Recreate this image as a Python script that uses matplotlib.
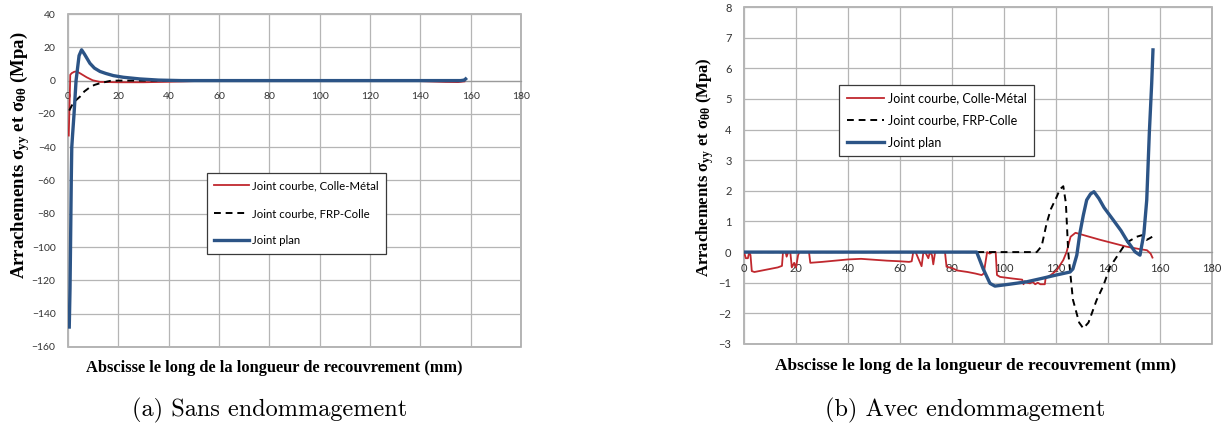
import matplotlib
matplotlib.use("Agg")
import matplotlib.pyplot as plt

# ---------------- data : (a) Sans endommagement ----------------
a_plan_x = [0.5, 0.8, 1.0, 1.3, 1.5, 1.8, 2.4, 3.2, 4.4, 5.4, 6.5, 8.7, 10.5, 12.7, 15, 18, 22,
            28.5, 36, 45, 60, 80, 100, 120, 140, 156, 157.5, 158]
a_plan_y = [-148, -125, -100, -60, -40, -33, -20, 0, 15, 18.5, 16, 10.4, 7.5, 5.5, 4.3, 3, 2,
            1, 0.3, 0, 0, 0, 0, 0, 0, 0, 0.3, 1.0]

a_cm_x = [0.3, 0.6, 0.9, 1.5, 2.5, 3.5, 5, 7.4, 9.8, 12.7, 20, 30, 40, 50, 60, 80, 100, 110,
          120, 140, 150, 155, 157.5]
a_cm_y = [-33, -15, 3.5, 4.5, 5.3, 5.5, 4.2, 2, 0.2, -0.8, -1, -1, -0.7, -0.3, 0, 0.3, 0.3, 0.3,
          0, -0.3, -0.8, -0.9, -0.5]

a_frp_x = [0.5, 1.5, 3, 4.8, 6.5, 8.7, 10.5, 12.7, 16.7, 20, 30, 50, 80, 120, 157.5]
a_frp_y = [-18, -15, -12, -9.6, -6.5, -4, -2.6, -1.6, -0.2, 0, 0, 0, 0, 0, 0]

# ---------------- data : (b) Avec endommagement ----------------
b_plan_x = [0, 89.5, 92, 94.6, 96.5, 102, 108.7, 115, 120, 125.4, 126.5, 128, 129.2, 130.5,
            131.8, 133.3, 134.6, 136.5, 138.5, 142, 145, 147.2, 150.4, 152.3, 153.8, 154.9,
            155.9, 156.8, 157.3]
b_plan_y = [0, 0, -0.55, -1.02, -1.11, -1.05, -0.97, -0.85, -0.75, -0.65, -0.55, -0.1, 0.62,
            1.2, 1.7, 1.9, 1.97, 1.75, 1.45, 1.05, 0.7, 0.39, 0.01, -0.1, 0.6, 1.7,
            3.9, 5.5, 6.6]

b_frp_x = [0, 112.6, 114.5, 116.4, 118, 120.3, 121.5, 122.8, 123.8, 124.7, 126.5, 128.9, 130.5,
           132.5, 135.6, 138.2, 140.8, 143, 145.9, 148, 151, 153, 154.9, 156, 157]
b_frp_y = [0, 0, 0.2, 0.94, 1.4, 1.81, 2.05, 2.15, 1.6, 0, -1.55, -2.3, -2.49,
           -2.3, -1.57, -1.1, -0.48, -0.2, 0.17, 0.35, 0.5, 0.55, 0.4, 0.45, 0.5]

b_cm_x = [0, 0.7, 1.5, 2.0, 2.5, 3.0, 4.0, 7, 10, 13, 14.6, 15.0, 16.0, 16.4, 17.0, 17.8, 18.4,
          19.3, 20.0, 20.8, 21.3, 25.0, 25.5, 30, 35, 40, 45, 50, 55, 60, 63.5, 64.5, 65.1,
          66.0, 67.0, 68.3, 69.0, 70.0, 70.9, 71.5, 72.3, 72.8, 73.5, 77.3, 77.9, 80, 82, 86,
          89, 91.4, 92.2, 93.5, 94.5, 95.5, 96.8, 97.3, 98.5, 103, 107, 107.5, 108, 109, 110,
          111, 112, 113, 114, 115.7, 116.0, 118, 120.3, 122.8, 124.1, 125.6, 127.5, 132, 137,
          142, 147, 152, 155, 156.4, 157.1]
b_cm_y = [0, -0.2, -0.2, 0, -0.1, -0.62, -0.65, -0.6, -0.55, -0.5, -0.45, 0, 0, -0.15, 0, 0,
          -0.5, -0.35, -0.5, -0.1, 0, 0, -0.35, -0.32, -0.28, -0.24, -0.22, -0.25, -0.28, -0.3,
          -0.32, -0.3, 0, 0, -0.2, -0.46, 0, -0.05, -0.2, 0, -0.1, -0.4, 0, 0, -0.48, -0.52,
          -0.6, -0.65, -0.7, -0.75, -0.7, 0, -0.05, 0, 0, -0.75, -0.81, -0.86, -0.9, -1.05,
          -0.95, -1.0, -1.02, -0.97, -1.05, -1.0, -1.05, -1.05, -0.85, -0.75, -0.59, -0.26,
          0.01, 0.5, 0.63, 0.52, 0.4, 0.29, 0.18, 0.1, 0.06, -0.05, -0.18]

labels = ["Joint courbe, Colle-Métal", "Joint courbe, FRP-Colle", "Joint plan"]
xticks = [0, 20, 40, 60, 80, 100, 120, 140, 160, 180]
a_yticks = [40, 20, 0, -20, -40, -60, -80, -100, -120, -140, -160]
b_yticks = [8, 7, 6, 5, 4, 3, 2, 1, 0, -1, -2, -3]

xtitle = "Abscisse le long de la longueur de recouvrement (mm)"
ytitle = "Arrachements $σ_{yy}$ et $σ_{θθ}$ (Mpa)"
captions = ["(a) Sans endommagement", "(b) Avec endommagement"]

# ---------------- style ----------------
RED = "#C0282E"
BLUE = "#2C5486"
GRID = "#b5b5b5"
TICKC = "#333333"
plt.rcParams["mathtext.fontset"] = "custom"
plt.rcParams["mathtext.rm"] = "Liberation Serif:bold"
plt.rcParams["mathtext.it"] = "Liberation Serif:bold"
plt.rcParams["mathtext.bf"] = "Liberation Serif:bold"
plt.rcParams["mathtext.default"] = "bf"

fig = plt.figure(figsize=(12.31, 4.28), dpi=100)
W, H = 1231, 428

def make_ax(px_left, px_top, px_w, px_h):
    return fig.add_axes([px_left / W, 1 - (px_top + px_h) / H, px_w / W, px_h / H])

axA = make_ax(68, 14, 453, 333)
axB = make_ax(744, 7, 468, 337)

def style(ax, yticks, ylim, fs):
    ax.set_xlim(0, 180)
    ax.set_ylim(*ylim)
    ax.set_xticks(xticks)
    ax.set_yticks(yticks)
    ax.grid(True, color=GRID, lw=0.9)
    ax.set_axisbelow(True)
    for s in ["top", "right", "left"]:
        ax.spines[s].set_visible(False)
    ax.spines["bottom"].set_position(("data", 0))
    ax.spines["bottom"].set_color("#9a9a9a")
    ax.spines["bottom"].set_linewidth(0.9)
    ax.patch.set_edgecolor("#a8a8a8")
    ax.patch.set_linewidth(1.2)
    ax.tick_params(axis="x", length=0, pad=8, labelsize=fs, labelcolor=TICKC)
    ax.tick_params(axis="y", length=0, pad=9, labelsize=fs, labelcolor=TICKC)
    for lab in ax.get_xticklabels() + ax.get_yticklabels():
        lab.set_fontfamily("Lato")

def draw(ax, cmx, cmy, frx, fry, plx, ply):
    l1, = ax.plot(cmx, cmy, color=RED, lw=1.3, zorder=3)
    l2, = ax.plot(frx, fry, color="black", lw=1.4, ls=(0, (3.5, 2.5)), zorder=3)
    l3, = ax.plot(plx, ply, color=BLUE, lw=2.4, zorder=4, solid_joinstyle="round")
    return [l1, l2, l3]

hA = draw(axA, a_cm_x, a_cm_y, a_frp_x, a_frp_y, a_plan_x, a_plan_y)
hB = draw(axB, b_cm_x, b_cm_y, b_frp_x, b_frp_y, b_plan_x, b_plan_y)
style(axA, a_yticks, (-160, 40), 7.5)
style(axB, b_yticks, (-3, 8), 8)

legA = axA.legend(hA, labels, loc="upper left", bbox_to_anchor=(0.307, 0.5225),
                  borderaxespad=0, frameon=True, fancybox=False, handlelength=3.0,
                  handletextpad=0.3, labelspacing=1.45, borderpad=0.65,
                  prop={"family": "Lato", "size": 8.2})
legB = axB.legend(hB, labels, loc="upper left", bbox_to_anchor=(0.203, 0.7685),
                  borderaxespad=0, frameon=True, fancybox=False, handlelength=3.0,
                  handletextpad=0.3, labelspacing=0.8, borderpad=0.6,
                  prop={"family": "Lato", "size": 9})
for leg in (legA, legB):
    fr = leg.get_frame()
    fr.set_edgecolor("#3a3a3a")
    fr.set_linewidth(0.9)
    fr.set_alpha(1)

# axis titles
fig.text(274 / W, 1 - 368 / H, xtitle, ha="center", va="center",
         family="Liberation Serif", weight="bold", size=11.8)
fig.text(976 / W, 1 - 366 / H, xtitle, ha="center", va="center",
         family="Liberation Serif", weight="bold", size=12.5)
fig.text(20 / W, 1 - 155 / H, ytitle, ha="center", va="center", rotation=90,
         family="Liberation Serif", weight="bold", size=13.5)
fig.text(705 / W, 1 - 167 / H, ytitle, ha="center", va="center", rotation=90,
         family="Liberation Serif", weight="bold", size=12)

# captions
fig.text(270 / W, 1 - 410 / H, captions[0], ha="center", va="center",
         family="cmr10", size=17.5)
fig.text(965 / W, 1 - 410 / H, captions[1], ha="center", va="center",
         family="cmr10", size=17.5)

fig.savefig("out.png", dpi=100)
